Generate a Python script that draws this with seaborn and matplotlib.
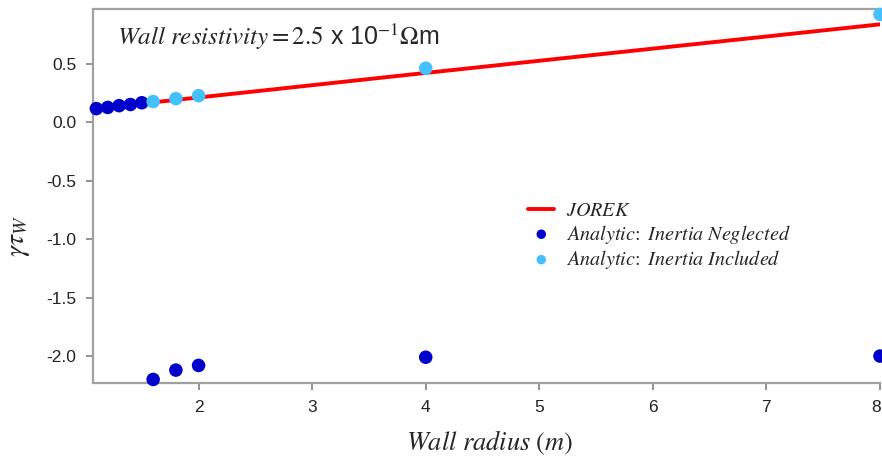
import matplotlib
matplotlib.use("Agg")
import matplotlib.pyplot as plt
import matplotlib.transforms as mtransforms
import seaborn as sns
import pandas as pd

# data
jorek_r = [1.0, 1.5, 2.0, 4.0, 8.0]
jorek_g = [0.105, 0.158, 0.21, 0.42, 0.835]
negl_r = [1.1, 1.2, 1.3, 1.4, 1.5, 1.6, 1.8, 2.0, 4.0, 8.0]
negl_g = [0.115, 0.125, 0.14, 0.15, 0.165, -2.2, -2.12, -2.08, -2.01, -2.0]
incl_r = [1.6, 1.8, 2.0, 4.0, 8.0]
incl_g = [0.175, 0.2, 0.225, 0.46, 0.92]
xticks = [2, 3, 4, 5, 6, 7, 8]
yticks = [0.5, 0.0, -0.5, -1.0, -1.5, -2.0]

sns.set_style("white")
plt.rcParams['font.family'] = ['Liberation Sans', 'DejaVu Sans']
plt.rcParams['mathtext.fontset'] = 'stix'

fig = plt.figure(figsize=(8.82, 4.57), dpi=100)
ax = fig.add_axes([0.1054, 0.162, 0.8923, 0.818])

sns.lineplot(x=jorek_r, y=jorek_g, ax=ax, color='#ff0000', lw=2.8,
             label=r'$JOREK$', zorder=2)
sns.scatterplot(x=negl_r, y=negl_g, ax=ax, color='#0000cd', s=95,
                edgecolor='none', label=r'$Analytic\!:\ Inertia\ Neglected$',
                zorder=3, clip_on=False)
sns.scatterplot(x=incl_r, y=incl_g, ax=ax, color='#44c0ff', s=95,
                edgecolor='none', label=r'$Analytic\!:\ Inertia\ Included$',
                zorder=3, clip_on=False)

ax.set_xlim(1.07, 8.0)
ax.set_ylim(-2.23, 0.965)
ax.set_xticks(xticks)
ax.set_xticklabels([str(t) for t in xticks])
ax.set_yticks(yticks)
ax.set_yticklabels([f"{t:.1f}" for t in yticks])

for s in ['left', 'bottom', 'top']:
    ax.spines[s].set_color('#a0a0a0')
    ax.spines[s].set_linewidth(1.6)
ax.spines['right'].set_visible(False)
ax.tick_params(axis='both', direction='out', length=5, width=1.2,
               color='#808080', labelsize=12.5, labelcolor='#222222',
               bottom=True, left=True, pad=7)

# nudge last x tick label inside the figure
last = ax.get_xticklabels()[-1]
last.set_transform(last.get_transform() +
                   mtransforms.ScaledTranslation(-4 / 100, 0, fig.dpi_scale_trans))

ax.set_xlabel('')
ax.set_ylabel('')
fig.text(0.555, 0.03, r'$Wall\ radius\ (m)$', fontsize=19, ha='center', va='center')
fig.text(0.022, 0.485, r'$\gamma\tau_W$', fontsize=20, ha='center', va='center',
         rotation=90)

ax.text(0.03, 0.925, r'$Wall\ resistivity = 2.5$ x 10$^{-1}$$\Omega$m',
        transform=ax.transAxes, fontsize=18, va='center', ha='left')

leg = ax.legend(loc='upper left', bbox_to_anchor=(0.53, 0.535), frameon=False,
                fontsize=14.5, handlelength=1.3, labelspacing=0.12,
                markerscale=0.7, handletextpad=0.6)

fig.savefig('out.png', dpi=100)
